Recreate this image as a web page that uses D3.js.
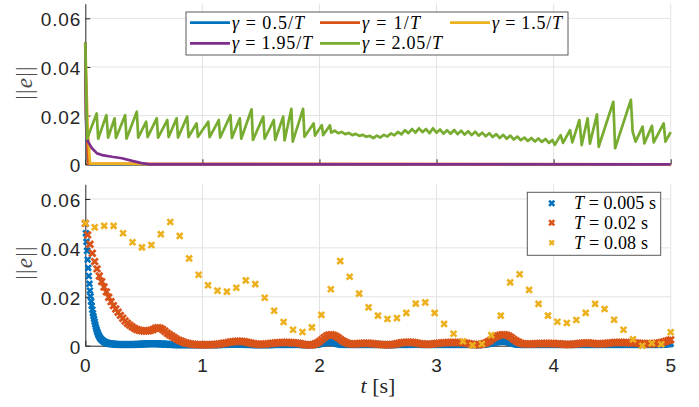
<!DOCTYPE html>
<html><head><meta charset="utf-8">
<script src="https://cdn.jsdelivr.net/npm/d3@7"></script>
<style>
body{margin:0;background:#fff;}
svg{display:block;}
</style></head><body>
<svg id="chart" width="699" height="407"></svg>
<script>
// ---------------- DATA ----------------
const tickX = [0, 1, 2, 3, 4, 5];
const tickXLabels = ["0", "1", "2", "3", "4", "5"];
const tickY = [0, 0.02, 0.04, 0.06];
const tickYLabels = ["0", "0.02", "0.04", "0.06"];

// top panel: gamma series (time, value) vertices
const gammaLabels = ["0.5", "1", "1.5", "1.95", "2.05"];
const topBlueT = [0, 0.008, 0.02, 0.04, 5];
const topBlueV = [0.05, 0.015, 0.002, 0, 0];
const topOrangeT = [0, 0.006, 0.025, 5];
const topOrangeV = [0.05, 0.02, 0.0002, 0];
const topYellowT = [0, 0.02, 0.04, 0.3, 0.6, 5];
const topYellowV = [0.05, 0.015, 0.0003, 0.0003, 0, 0];
const topPurpleT = [0, 0.01, 0.023, 0.057, 0.1, 0.143, 0.228, 0.313, 0.4, 0.48, 0.55, 5];
const topPurpleV = [0.05, 0.011, 0.0093, 0.0066, 0.0045, 0.0038, 0.0031, 0.0025, 0.0014, 0.0005, 0, 0];
const topGreenT = [0,0.015,0.097,0.11,0.18,0.195,0.25,0.262,0.34,0.352,0.44,0.452,0.52,0.532,0.61,0.622,0.70,0.712,0.78,0.792,0.87,0.882,0.95,0.962,1.05,1.062,1.14,1.152,1.24,1.252,1.32,1.332,1.42,1.432,1.52,1.532,1.61,1.622,1.69,1.702,1.76,1.772,1.86,1.872,1.95,1.962,2.02,2.032,2.09,2.10,
 2.13,2.16,2.19,2.22,2.25,2.28,2.31,2.34,2.37,2.40,2.43,2.46,2.49,2.52,2.55,2.58,2.61,2.64,2.67,2.70,2.73,2.76,2.79,2.82,2.85,2.88,2.91,2.94,2.97,3.00,3.03,3.06,3.09,3.12,3.15,3.18,3.21,3.24,3.27,3.30,3.33,3.36,3.39,3.42,3.45,3.48,3.51,3.54,3.57,3.60,3.63,3.66,3.69,3.72,3.75,3.78,3.81,3.84,3.87,3.90,3.93,3.96,3.99,
 4.01,4.06,4.08,4.14,4.16,4.22,4.24,4.29,4.31,4.37,4.385,4.51,4.525,4.66,4.675,4.70,4.76,4.775,4.84,4.855,4.94,4.955,5.0];
const topGreenV = [0.05,0.0105,0.0209,0.0105,0.0202,0.011,0.0189,0.0108,0.0202,0.0105,0.0216,0.011,0.0175,0.0112,0.0189,0.011,0.0182,0.0112,0.0189,0.011,0.0196,0.0112,0.0168,0.0113,0.0175,0.0112,0.0182,0.011,0.0202,0.0108,0.0189,0.0105,0.0226,0.01,0.0196,0.0105,0.0182,0.01,0.0196,0.0098,0.0228,0.0093,0.0228,0.0113,0.0168,0.0118,0.0161,0.012,0.016,0.013,
 0.0138,0.0128,0.0133,0.0124,0.0129,0.012,0.0125,0.0117,0.0121,0.0113,0.0117,0.0108,0.0118,0.011,0.0121,0.0114,0.0127,0.0119,0.0133,0.0123,0.014,0.0128,0.0145,0.013,0.0148,0.0132,0.0145,0.0128,0.0148,0.013,0.0143,0.0126,0.014,0.0125,0.0141,0.0124,0.0138,0.0122,0.0136,0.012,0.0134,0.0118,0.013,0.0115,0.0128,0.0112,0.0124,0.0108,0.0121,0.0105,0.0118,0.0102,0.0114,0.0099,0.011,0.0096,0.0108,0.0094,0.0106,0.0092,0.0104,0.0088,0.01,
 0.008,0.012,0.0088,0.014,0.009,0.0182,0.0079,0.0189,0.0085,0.0205,0.0072,0.0257,0.0066,0.0265,0.0134,0.0093,0.0155,0.0086,0.0158,0.009,0.0168,0.0093,0.0132];

// bottom panel: sampled error norms, in units of 1e-4
const periodLabels = ["0.005", "0.02", "0.08"];
const botBlue = [
500,460,425,388,352,318,285,253,225,202,181,163,147,133,121,110,98,87,77,68,
60,53,47,42,37,33,29,26,24,22,20,18,16,15,14,13,12,11,10,10,
9,9,8,8,8,7,7,7,7,6,6,6,6,6,5,5,5,5,5,5,
5,5,5,5,5,5,5,5,5,5,5,5,5,5,5,5,5,5,5,5,
5,5,5,5,5,5,5,5,6,6,6,6,6,6,6,6,6,7,7,7,
7,7,7,7,7,8,8,8,8,8,8,8,8,8,8,8,8,8,8,8,
8,8,8,8,8,8,8,7,7,7,7,7,7,7,6,6,6,6,6,6,
6,6,6,5,5,5,5,5,5,5,5,5,4,4,4,4,4,4,4,4,
4,4,4,4,4,4,4,4,4,4,4,4,4,4,4,4,4,4,4,4,
4,4,4,4,4,4,4,4,4,4,4,4,4,4,4,4,4,4,4,4,
4,4,4,4,4,4,4,4,4,4,4,4,4,4,4,4,4,4,4,4,
4,4,4,4,4,4,4,4,4,4,5,5,5,5,5,5,5,5,5,5,
5,5,5,6,6,6,6,6,6,6,6,6,6,6,6,6,6,6,6,6,
6,6,6,6,6,6,6,6,6,6,5,5,5,5,5,5,5,5,5,5,
5,5,5,5,5,4,4,4,4,4,4,4,4,4,4,4,4,4,4,4,
4,4,4,4,4,4,4,4,4,4,4,4,4,4,4,4,4,4,4,4,
5,5,5,5,5,5,5,5,5,5,5,5,5,5,5,5,5,5,5,5,
5,5,5,5,5,5,5,5,5,5,5,5,5,5,5,5,5,5,5,5,
5,5,5,5,5,5,5,5,5,5,4,4,4,4,4,4,4,4,4,4,
4,4,4,4,4,4,4,4,4,4,4,4,5,5,5,5,6,6,7,7,
8,8,9,10,10,11,12,12,13,13,14,14,14,15,15,15,15,15,15,15,
14,14,14,13,13,12,12,11,10,10,9,8,8,7,7,6,6,6,5,5,
5,5,5,5,5,5,5,5,5,5,5,5,5,5,5,5,5,5,5,5,
5,5,5,5,5,5,5,5,5,5,5,5,5,5,5,5,5,5,5,5,
5,5,5,5,5,5,5,5,5,5,5,5,5,5,5,5,5,5,5,5,
5,5,5,5,5,5,5,5,5,5,4,4,4,4,4,4,4,4,4,4,
4,4,4,4,4,4,4,4,4,4,5,5,5,5,5,5,5,5,5,5,
5,5,5,5,5,5,5,5,5,5,5,5,5,5,5,5,5,5,5,5,
6,6,6,6,6,6,6,6,6,6,5,5,5,5,5,5,5,5,5,5,
5,5,5,5,5,5,5,5,5,5,5,5,5,5,5,5,5,5,5,5,
5,5,5,5,5,5,5,5,5,5,5,5,5,5,5,5,5,5,5,5,
5,5,5,5,5,5,5,5,5,5,5,5,5,5,5,5,5,5,5,5,
5,5,5,5,5,5,5,5,5,5,5,5,5,5,5,5,5,5,5,5,
5,5,5,5,5,4,4,4,4,4,4,4,4,4,4,5,5,5,5,5,
5,6,6,6,7,7,7,8,8,9,9,10,10,11,11,12,12,13,13,14,
14,15,15,16,16,16,17,17,17,18,18,18,18,18,18,18,18,17,17,17,
16,16,15,15,14,14,13,12,12,11,10,10,9,8,8,7,7,6,6,6,
5,5,5,5,5,5,5,5,5,5,5,5,5,5,5,5,5,5,5,5,
5,5,5,5,5,5,5,5,5,5,5,5,5,5,5,5,5,5,5,5,
5,5,5,5,5,5,5,5,5,5,5,5,5,5,5,5,5,5,5,5,
5,5,5,5,5,5,5,5,5,5,5,5,5,5,5,5,5,5,5,5,
5,5,5,5,5,5,5,5,5,5,5,5,5,5,5,5,5,5,5,5,
5,5,5,5,5,5,5,5,5,5,5,5,5,5,5,5,5,5,5,5,
5,5,5,5,5,5,5,5,5,5,5,5,5,5,5,5,5,5,5,5,
5,5,5,5,5,5,5,5,5,5,5,5,5,5,5,5,5,5,5,5,
5,5,5,5,5,5,5,5,5,5,5,5,5,5,5,5,5,5,5,5,
5,5,5,5,5,5,5,5,5,5,5,5,5,5,5,5,5,5,5,5,
5,5,5,5,5,5,5,5,5,5,5,5,5,5,5,5,5,5,5,5,
5,5,5,5,5,5,5,5,5,5,5,5,5,5,5,5,5,5,5,5,
5,5,5,5,5,5,5,6,6,6,6,6,7,7,7,7,8,8,8,8,
8];
const botRed = [
500,453,415,378,344,314,285,262,240,220,
198,180,164,150,137,124,112,101,92,84,
77,71,66,63,61,60,60,61,63,66,
72,74,72,66,59,51,45,39,33,27,
22,18,14,11,9,7,6,5,4,4,
4,4,4,4,4,5,6,7,8,10,
11,13,15,16,17,18,18,17,16,14,
12,10,8,7,6,6,6,7,8,9,
10,11,12,12,13,13,13,13,12,12,
11,10,8,6,4,3,3,4,7,11,
17,25,33,40,44,45,43,39,33,26,
19,14,10,8,7,7,8,9,9,10,
10,10,9,8,7,6,5,4,4,4,
4,5,6,8,10,12,13,14,14,14,
13,12,10,8,7,6,6,6,7,8,
9,10,11,12,12,13,13,13,13,13,
13,12,11,10,8,6,5,4,4,6,
8,11,16,22,29,35,40,43,45,45,
43,39,33,26,19,14,10,8,7,7,
7,7,8,8,9,9,9,9,9,9,
9,8,8,7,6,5,5,5,6,7,
8,9,10,11,11,11,10,9,8,8,
8,8,9,10,11,12,13,13,13,13,
13,13,12,12,11,11,10,9,9,8,
8,8,8,9,10,11,13,15,18,21,
24];
const botYellow = [
501,484,490,490,460,423,402,412,456,506,
449,357,290,247,225,221,237,267,252,196,
143,97,65,56,75,126,231,346,282,213,
157,123,109,113,134,172,177,134,89,49,
18,2,7,43,123,259,292,228,171,123,
98,93,105,134,171,150,106,65,26,0,
10,6,55];
const VALUE_UNIT = 1e-4;

// ---------------- STYLE ----------------
const C = {blue:"#0072BD", orange:"#D95319", yellow:"#EDB120", purple:"#7E2F8E", green:"#77AC30"};
const axisColor = "#262626", gridColor = "#e3e3e3";
const tickFont = "'Liberation Sans', Arial, Helvetica, sans-serif";
const mathFont = "'Liberation Serif', 'DejaVu Serif', serif";

const svg = d3.select("#chart");
svg.append("rect").attr("width",699).attr("height",407).attr("fill","#fff");

const x = d3.scaleLinear().domain([0,5]).range([85.3,670.7]);
const yTop = d3.scaleLinear().domain([0,0.066]).range([164.3,3.7]);
const yBot = d3.scaleLinear().domain([0,0.066]).range([345.7,184.3]);

function frame(y, showX) {
  const g = svg.append("g");
  g.selectAll(".vg").data(tickX.filter(d=>d>0)).join("line")
    .attr("x1",d=>x(d)).attr("x2",d=>x(d)).attr("y1",y.range()[0]).attr("y2",y.range()[1])
    .attr("stroke",gridColor).attr("stroke-width",1);
  g.selectAll(".hg").data(tickY.filter(d=>d>0)).join("line")
    .attr("x1",x.range()[0]).attr("x2",x.range()[1]).attr("y1",d=>y(d)).attr("y2",d=>y(d))
    .attr("stroke",gridColor).attr("stroke-width",1);
  const ax = g.append("g").attr("transform",`translate(${x.range()[0]},0)`)
    .call(d3.axisLeft(y).tickValues(tickY).tickFormat((d,i)=>tickYLabels[i])
      .tickSizeInner(-5).tickSizeOuter(0).tickPadding(4));
  const bx = g.append("g").attr("transform",`translate(0,${y.range()[0]})`)
    .call(d3.axisBottom(x).tickValues(tickX).tickFormat((d,i)=>showX?tickXLabels[i]:"")
      .tickSizeInner(-5).tickSizeOuter(0).tickPadding(12.5));
  [ax,bx].forEach(a=>{
    a.select(".domain").attr("stroke",axisColor).attr("stroke-width",1);
    a.selectAll(".tick line").attr("stroke",axisColor).attr("stroke-width",1);
    a.selectAll(".tick text").attr("fill",axisColor).attr("font-size",19)
      .attr("letter-spacing","0.9px").attr("font-family",tickFont);
  });
  ax.selectAll(".tick text").attr("dy","0.4em");
  return g;
}

function mathText(parent, parts, size, len) {
  const t = parent.append("text").attr("font-family",mathFont).attr("font-size",size).attr("fill","#000")
    .attr("textLength",len).attr("lengthAdjust","spacing");
  parts.forEach(p=>{
    t.append("tspan").attr("font-style",p.i?"italic":"normal").text(p.t);
  });
  return t;
}

// ---------- TOP PANEL ----------
frame(yTop, false);
const lineTop = d3.line().x(d=>x(d[0])).y(d=>yTop(d[1]));
const topSeries = [
  {T:topBlueT, V:topBlueV, c:C.blue},
  {T:topOrangeT, V:topOrangeV, c:C.orange},
  {T:topYellowT, V:topYellowV, c:C.yellow},
  {T:topPurpleT, V:topPurpleV, c:C.purple},
  {T:topGreenT, V:topGreenV, c:C.green}
];
topSeries.forEach(s=>{
  svg.append("path").datum(s.T.map((t,i)=>[t,s.V[i]]))
    .attr("d",lineTop).attr("fill","none").attr("stroke",s.c)
    .attr("stroke-width",2.7).attr("stroke-linejoin","round");
});

// top legend
const lg = svg.append("g");
lg.append("rect").attr("x",186).attr("y",12).attr("width",382).attr("height",43)
  .attr("fill","#fff").attr("stroke","#5a5a5a").attr("stroke-width",1);
const legPos = [[190,22.7],[320,22.7],[450,22.7],[190,43.3],[320,43.3]];
const legLen = [72, 58, 70, 80, 80];
topSeries.forEach((s,i)=>{
  const [lx,ly] = legPos[i];
  lg.append("line").attr("x1",lx).attr("x2",lx+40).attr("y1",ly).attr("y2",ly)
    .attr("stroke",s.c).attr("stroke-width",2.7);
  mathText(lg,[{t:"γ",i:true},{t:" = "+gammaLabels[i]+"/",i:false},{t:"T",i:true}],18, legLen[i])
    .attr("x",lx+42).attr("y",ly+6);
});

// ---------- BOTTOM PANEL ----------
frame(yBot, true);
const botSeries = [
  {V:botBlue, c:C.blue, s:2.8, w:2.6},
  {V:botRed, c:C.orange, s:3.2, w:2.8},
  {V:botYellow, c:C.yellow, s:2.9, w:2.6}
];
function xMark(s){ return `M${-s},${-s}L${s},${s}M${-s},${s}L${s},${-s}`; }
botSeries.forEach(sr=>{
  const n = sr.V.length;
  const tScale = d3.scaleLinear().domain([0,n-1]).range([0,5]);
  svg.append("g").selectAll("path").data(sr.V).join("path")
    .attr("transform",(d,i)=>`translate(${x(tScale(i))},${yBot(d*VALUE_UNIT)})`)
    .attr("d",xMark(sr.s)).attr("stroke",sr.c).attr("stroke-width",sr.w).attr("fill","none");
});

// bottom legend
const bl = svg.append("g");
bl.append("rect").attr("x",527.3).attr("y",192.3).attr("width",133.4).attr("height",63)
  .attr("fill","#fff").attr("stroke","#5a5a5a").attr("stroke-width",1);
const rowY = [203.3,222.7,242.7];
const rowLen = [82, 74, 74];
const legMark = [[2.6,2.5],[2.6,2.5],[2.3,2.2]];
botSeries.forEach((sr,i)=>{
  bl.append("path").attr("transform",`translate(551.7,${rowY[i]})`)
    .attr("d",xMark(legMark[i][0])).attr("stroke",sr.c).attr("stroke-width",legMark[i][1]).attr("fill","none");
  mathText(bl,[{t:"T",i:true},{t:" = "+periodLabels[i]+" s",i:false}],18, rowLen[i])
    .attr("x",574).attr("y",rowY[i]+6);
});

// axis labels
[82.5, 262.5].forEach(cy=>{
  const t = svg.append("text").attr("transform",`translate(32,${cy}) rotate(-90)`)
    .attr("text-anchor","middle").attr("font-family",mathFont).attr("font-size",23)
    .attr("letter-spacing","1.2px").attr("fill","#4a4a4a");
  t.append("tspan").text("||");
  t.append("tspan").attr("font-style","italic").text("e");
  t.append("tspan").text("||");
});
const xl = svg.append("text").attr("x",378).attr("y",393).attr("text-anchor","middle")
  .attr("font-family",mathFont).attr("font-size",22).attr("fill","#262626");
xl.append("tspan").attr("font-style","italic").text("t");
xl.append("tspan").text(" [s]");
</script>
</body></html>
